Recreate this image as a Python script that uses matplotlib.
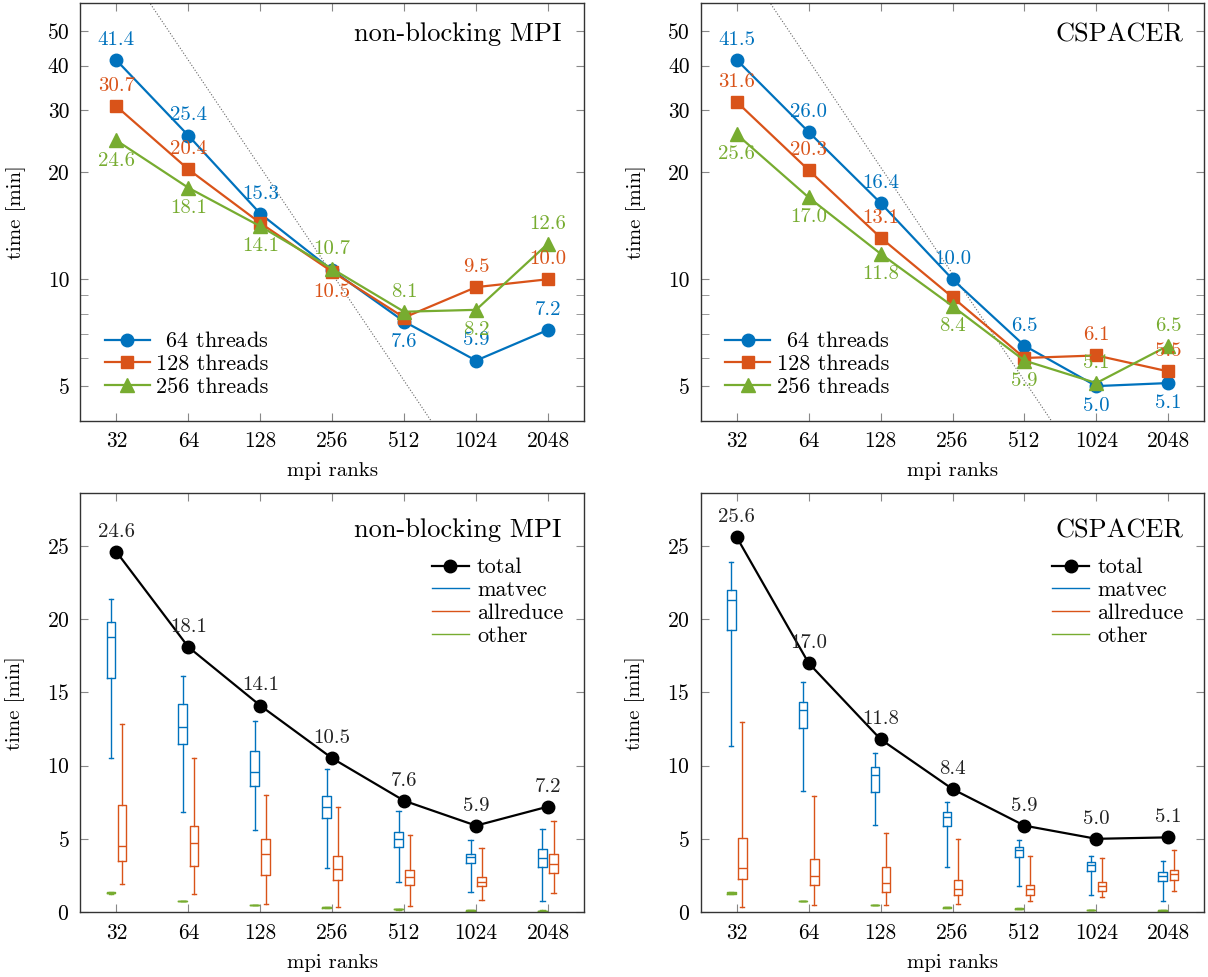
import numpy as np
import matplotlib
matplotlib.use("Agg")
import matplotlib.pyplot as plt

plt.rcParams['font.family'] = 'cmr10'
plt.rcParams['mathtext.fontset'] = 'cm'
plt.rcParams['axes.formatter.use_mathtext'] = True

BLUE = '#0072BD'
RED = '#D95319'
GREEN = '#77AC30'

ranks = [32, 64, 128, 256, 512, 1024, 2048]

# --- top row: time per thread count (log scale) ---
nb_64 = [41.4, 25.4, 15.3, 10.6, 7.6, 5.9, 7.2]
nb_128 = [30.7, 20.4, 14.4, 10.5, 7.8, 9.5, 10.0]
nb_256 = [24.6, 18.1, 14.1, 10.7, 8.1, 8.2, 12.6]
nb_64_lab = ['a', 'a', 'a', '', 'b', 'a', 'a']
nb_128_lab = ['a', 'a', '', 'b', '', 'a', 'a']
nb_256_lab = ['b', 'b', 'b', 'a', 'a', 'b', 'a']

cs_64 = [41.5, 26.0, 16.4, 10.0, 6.5, 5.0, 5.1]
cs_128 = [31.6, 20.3, 13.1, 8.9, 6.0, 6.1, 5.5]
cs_256 = [25.6, 17.0, 11.8, 8.4, 5.9, 5.1, 6.5]
cs_64_lab = ['a', 'a', 'a', 'a', 'a', 'b', 'b']
cs_128_lab = ['a', 'a', 'a', '', '', 'a', 'a']
cs_256_lab = ['b', 'b', 'b', 'b', 'b', 'a', 'a']

# ideal scaling reference (dotted)
ideal_ranks = [16, 4096]
ideal_ref = 10.35  # value at 256 ranks

# --- bottom row: totals and box stats (whislo, q1, med, q3, whishi) ---
nb_total = [24.6, 18.1, 14.1, 10.5, 7.6, 5.9, 7.2]
cs_total = [25.6, 17.0, 11.8, 8.4, 5.9, 5.0, 5.1]

nb_matvec = [
    [10.5, 16.0, 18.8, 19.84, 21.36],
    [6.86, 11.5, 12.64, 14.18, 16.09],
    [5.57, 8.61, 9.59, 11.0, 13.05],
    [3.02, 6.39, 7.18, 7.93, 9.8],
    [2.05, 4.45, 4.98, 5.48, 6.89],
    [1.36, 3.34, 3.73, 3.98, 4.91],
    [0.77, 3.05, 3.7, 4.3, 5.66],
]
nb_allreduce = [
    [1.93, 3.5, 4.52, 7.32, 12.86],
    [1.25, 3.16, 4.73, 5.86, 10.52],
    [0.52, 2.55, 3.98, 4.98, 8.0],
    [0.36, 2.2, 2.93, 3.8, 7.14],
    [0.43, 1.86, 2.39, 2.89, 5.27],
    [0.8, 1.75, 2.05, 2.39, 4.36],
    [1.32, 2.68, 3.3, 3.95, 6.23],
]
nb_other = [
    [1.26, 1.28, 1.32, 1.36, 1.38],
    [0.72, 0.73, 0.75, 0.77, 0.78],
    [0.45, 0.46, 0.48, 0.5, 0.51],
    [0.29, 0.3, 0.32, 0.34, 0.35],
    [0.17, 0.18, 0.2, 0.22, 0.23],
    [0.09, 0.1, 0.11, 0.12, 0.13],
    [0.07, 0.08, 0.09, 0.1, 0.11],
]
cs_matvec = [
    [11.32, 19.23, 21.3, 22.0, 23.9],
    [8.27, 12.59, 13.77, 14.34, 15.68],
    [5.91, 8.23, 9.34, 9.93, 10.86],
    [3.07, 5.86, 6.48, 6.86, 7.52],
    [1.8, 3.75, 4.23, 4.41, 4.91],
    [1.18, 2.8, 3.18, 3.41, 3.84],
    [0.75, 2.09, 2.45, 2.73, 3.48],
]
cs_allreduce = [
    [0.36, 2.27, 2.98, 5.07, 12.95],
    [0.5, 1.86, 2.45, 3.61, 7.95],
    [0.45, 1.36, 1.98, 3.07, 5.41],
    [0.52, 1.18, 1.59, 2.2, 4.98],
    [0.73, 1.18, 1.55, 1.86, 3.82],
    [1.0, 1.41, 1.75, 2.05, 3.66],
    [1.45, 2.18, 2.57, 2.89, 4.23],
]
cs_other = [
    [1.24, 1.26, 1.3, 1.34, 1.36],
    [0.72, 0.73, 0.75, 0.77, 0.78],
    [0.45, 0.46, 0.48, 0.5, 0.51],
    [0.29, 0.3, 0.32, 0.34, 0.35],
    [0.2, 0.21, 0.23, 0.25, 0.26],
    [0.12, 0.13, 0.14, 0.15, 0.16],
    [0.09, 0.1, 0.11, 0.12, 0.13],
]

xpos = np.log2(ranks)
TICK_FS = 15.5
LAB_FS = 15
LEG_FS = 16
TITLE_FS = 19


def style_axes(ax):
    for s in ax.spines.values():
        s.set_color('#333333')
        s.set_linewidth(1.0)
    ax.tick_params(which='both', direction='in', top=True, right=True,
                   color='#888888', labelsize=TICK_FS, pad=8)
    ax.tick_params(which='major', length=6)
    ax.tick_params(which='minor', length=6)
    ax.set_xlim(4.5, 11.5)
    ax.set_xticks(xpos)
    ax.set_xticklabels([str(r) for r in ranks])
    ax.set_xlabel('mpi ranks', fontsize=LAB_FS, labelpad=8)
    ax.set_ylabel('time [min]', fontsize=LAB_FS, labelpad=15.5)


def label_points(ax, vals, where, color):
    for x, v, w in zip(xpos, vals, where):
        if w == 'a':
            ax.annotate('%.1f' % v, (x, v), xytext=(0, 8), textcoords='offset points',
                        ha='center', va='bottom', color=color, fontsize=LAB_FS)
        elif w == 'b':
            ax.annotate('%.1f' % v, (x, v), xytext=(0, -8), textcoords='offset points',
                        ha='center', va='top', color=color, fontsize=LAB_FS)


def top_plot(ax, s64, s128, s256, l64, l128, l256, title, tx):
    ax.set_yscale('log')
    ir = np.array(ideal_ranks, dtype=float)
    ax.plot(np.log2(ir), ideal_ref * 256 / ir, ls=':', color='#666666', lw=0.8)
    ax.plot(xpos, s64, '-o', color=BLUE, lw=1.6, ms=9, label=r'$\enspace$64 threads')
    ax.plot(xpos, s128, '-s', color=RED, lw=1.6, ms=8.5, label='128 threads')
    ax.plot(xpos, s256, '-^', color=GREEN, lw=1.6, ms=10, label='256 threads')
    label_points(ax, s64, l64, BLUE)
    label_points(ax, s128, l128, RED)
    label_points(ax, s256, l256, GREEN)
    ax.set_ylim(4, 60)
    ax.set_yticks([5, 10, 20, 30, 40, 50])
    ax.set_yticklabels(['5', '10', '20', '30', '40', '50'])
    ax.set_yticks([6, 7, 8, 9], minor=True)
    ax.set_yticklabels([], minor=True)
    style_axes(ax)
    ax.text(tx, 0.925, title, transform=ax.transAxes, ha='right', va='center',
            fontsize=TITLE_FS)
    ax.legend(loc='lower left', bbox_to_anchor=(0.049, 0.056), frameon=False,
              fontsize=LEG_FS, handlelength=2.0, handletextpad=0.3, labelspacing=0.15,
              borderpad=0, borderaxespad=0, numpoints=1)


def make_stats(rows):
    return [dict(whislo=r[0], q1=r[1], med=r[2], q3=r[3], whishi=r[4]) for r in rows]


def draw_boxes(ax, rows, pos, color):
    props = dict(color=color, linewidth=1.0)
    ax.bxp(make_stats(rows), positions=pos, widths=0.12, capwidths=0.06,
           showfliers=False, boxprops=props, whiskerprops=props,
           capprops=props, medianprops=props, manage_ticks=False)


def bottom_plot(ax, total, matvec, allreduce, other, title, tx):
    off = 0.077
    draw_boxes(ax, matvec, xpos - off, BLUE)
    draw_boxes(ax, allreduce, xpos + off, RED)
    draw_boxes(ax, other, xpos - off, GREEN)
    ax.plot(xpos, total, '-o', color='black', lw=1.6, ms=9, label='total')
    for x, v in zip(xpos, total):
        ax.annotate('%.1f' % v, (x, v), xytext=(0, 8), textcoords='offset points',
                    ha='center', va='bottom', color='#222222', fontsize=LAB_FS)
    ax.plot([], [], color=BLUE, lw=1.0, label='matvec')
    ax.plot([], [], color=RED, lw=1.0, label='allreduce')
    ax.plot([], [], color=GREEN, lw=1.0, label='other')
    ax.set_ylim(0, 28.6)
    ax.set_yticks([0, 5, 10, 15, 20, 25])
    style_axes(ax)
    ax.text(tx, 0.912, title, transform=ax.transAxes, ha='right', va='center',
            fontsize=TITLE_FS)
    ax.legend(loc='upper left', bbox_to_anchor=(0.698, 0.846), frameon=False,
              fontsize=LEG_FS, handlelength=1.67, handletextpad=0.36, labelspacing=0.15,
              borderpad=0, borderaxespad=0, numpoints=1)


fig = plt.figure(figsize=(12.08, 9.77), dpi=100)
w, h_top, h_bot = 0.4168, 0.4273, 0.4286
ax1 = fig.add_axes([0.0666, 0.5696, w, h_top])
ax2 = fig.add_axes([0.5801, 0.5696, w, h_top])
ax3 = fig.add_axes([0.0666, 0.0665, w, h_bot])
ax4 = fig.add_axes([0.5801, 0.0665, w, h_bot])

top_plot(ax1, nb_64, nb_128, nb_256, nb_64_lab, nb_128_lab, nb_256_lab, 'non-blocking MPI', 0.955)
top_plot(ax2, cs_64, cs_128, cs_256, cs_64_lab, cs_128_lab, cs_256_lab, 'CSPACER', 0.958)
bottom_plot(ax3, nb_total, nb_matvec, nb_allreduce, nb_other, 'non-blocking MPI', 0.955)
bottom_plot(ax4, cs_total, cs_matvec, cs_allreduce, cs_other, 'CSPACER', 0.958)

fig.savefig('out.png', dpi=100)
